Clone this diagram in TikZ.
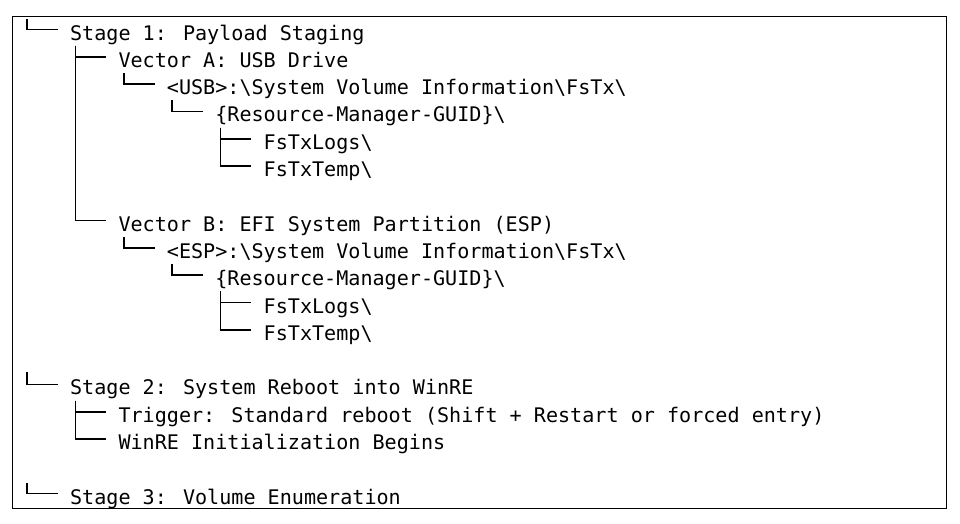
\documentclass[tikz,border=0pt]{standalone}
\usepackage{fontspec}
\newfontfamily\treemono{DejaVu Sans Mono}
\begin{document}
\begin{tikzpicture}[x=1pt,y=-1pt,
  lbl/.style={anchor=base west, inner sep=0pt,
    font=\treemono\fontsize{20.1pt}{24pt}\selectfont,
    text height=15pt, text depth=5.5pt},
  branch/.style={line width=1.6pt, line cap=butt, line join=miter}]
\useasboundingbox (0,0) rectangle (960,523);
\draw[line width=1pt] (12.7,16.7) rectangle (946,508.3);

% nodes (col k starts at 21.5 + 12.1k)
\node[lbl] (s1)    at (69.9,40)    {Stage 1: Payload Staging};
\node[lbl] (va)    at (118.3,67.3) {Vector A: USB Drive};
\node[lbl] (usb)   at (166.7,94.6) {<USB>:\textbackslash{}System Volume Information\textbackslash{}FsTx\textbackslash{}};
\node[lbl] (guida) at (215.1,121.9) {\{Resource-Manager-GUID\}\textbackslash{}};
\node[lbl] (logsa) at (263.5,149.2) {FsTxLogs\textbackslash{}};
\node[lbl] (tempa) at (263.5,176.5) {FsTxTemp\textbackslash{}};
\node[lbl] (vb)    at (118.3,231.1) {Vector B: EFI System Partition (ESP)};
\node[lbl] (esp)   at (166.7,258.4) {<ESP>:\textbackslash{}System Volume Information\textbackslash{}FsTx\textbackslash{}};
\node[lbl] (guidb) at (215.1,285.7) {\{Resource-Manager-GUID\}\textbackslash{}};
\node[lbl] (logsb) at (263.5,313.0) {FsTxLogs\textbackslash{}};
\node[lbl] (tempb) at (263.5,340.3) {FsTxTemp\textbackslash{}};
\node[lbl] (s2)    at (69.9,394.9) {Stage 2: System Reboot into WinRE};
\node[lbl] (trig)  at (118.3,422.2) {Trigger: Standard reboot (Shift + Restart or forced entry)};
\node[lbl] (winre) at (118.3,449.5) {WinRE Initialization Begins};
\node[lbl] (s3)    at (69.9,504.1) {Stage 3: Volume Enumeration};

% root stubs
\coordinate (rt1) at (26.95,18.5);
\coordinate (rt2) at (26.95,372.4);
\coordinate (rt3) at (26.95,482.6);

\draw[branch] (rt1) |- ([xshift=-12.1pt,yshift=10.5pt]s1.base west);
\draw[branch] (rt2) |- ([xshift=-12.1pt,yshift=10.5pt]s2.base west);
\draw[branch] (rt3) |- ([xshift=-12.1pt,yshift=10.5pt]s3.base west);

\foreach \p/\c in {s1/va, s1/vb, va/usb, usb/guida, guida/logsa, guida/tempa,
                   vb/esp, esp/guidb, guidb/logsb, guidb/tempb,
                   s2/trig, s2/winre}{
  \draw[branch] ([xshift=5.45pt]\p.south west) |- ([xshift=-12.1pt,yshift=10.5pt]\c.base west);
}
\end{tikzpicture}
\end{document}
